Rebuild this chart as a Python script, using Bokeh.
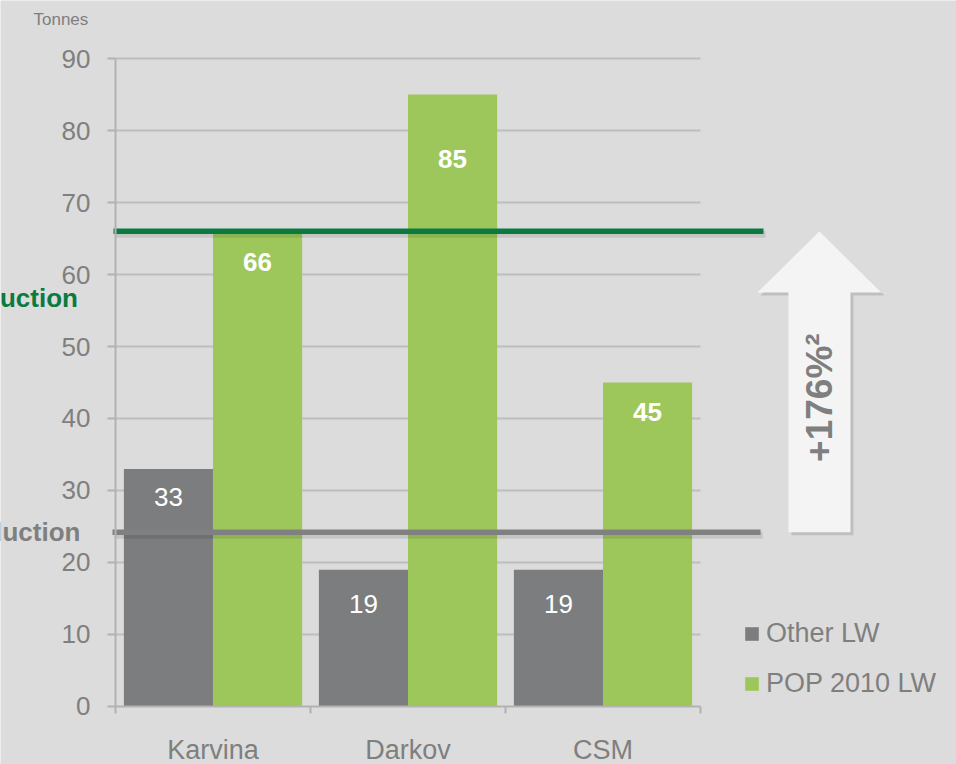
import numpy as np
from bokeh.plotting import figure
from bokeh.models import (Range1d, LinearAxis, FixedTicker, ColumnDataSource,
                          Legend, LegendItem)
from bokeh.core.properties import value
from bokeh.embed import file_html
from bokeh.resources import INLINE

# ---------------- data ----------------
categories = ["Karvina", "Darkov", "CSM"]
other_lw = [33, 19, 19]
pop_lw = [66, 85, 45]
y_ticks = [0, 10, 20, 30, 40, 50, 60, 70, 80, 90]
other_level = 24.2      # grey reference line
pop_level = 66.0        # green reference line
growth_text = "+176%\u00b2"
unit_label = "Tonnes"
series_names = ["Other LW", "POP 2010 LW"]
pop_level_label = "POP production"
other_level_label = "Other production"

# ---------------- style ----------------
FONT = "Liberation Sans"
TXT = "#7f7f7f"
BG = "#dcdcdc"
GRAY = "#7c7d7f"
GREEN = "#9dc75b"
DKGREEN = "#0a7a40"
AXIS = "#b2b2b2"
GRID = "#bdbdbd"
ARROW = "#f4f4f4"

W, H = 956, 764
X0, X1 = -0.5897, 4.3128
Y0, Y1 = -8.056, 98.056
p = figure(width=W, height=H, output_backend="svg", toolbar_location=None,
           x_range=Range1d(X0, X1), y_range=Range1d(Y0, Y1),
           x_axis_location=None, y_axis_location=None, min_border=0,
           tools="")
p.background_fill_color = BG
p.border_fill_color = BG
p.outline_line_color = None
p.grid.visible = False

n = len(categories)
xc = np.arange(n) + 0.5
bw = 0.457
dodge = bw / 2

src = ColumnDataSource(dict(
    xo=xc - dodge, xp=xc + dodge,
    other=other_lw, pop=pop_lw,
    ol=[str(v) for v in other_lw], pl=[str(v) for v in pop_lw],
    ooff=[28, 34, 34], poff=[31, 64, 29],
))

# horizontal grid lines (within the category span only)
gy = [t for t in y_ticks if t > 0]
p.segment(x0=[0] * len(gy), x1=[n] * len(gy), y0=gy, y1=gy,
          line_color=GRID, line_width=2)

# bars
r1 = p.vbar(x="xo", top="other", bottom=0, width=bw, source=src,
            fill_color=GRAY, line_color=None)
r2 = p.vbar(x="xp", top="pop", bottom=0, width=bw, source=src,
            fill_color=GREEN, line_color=None)

# bar labels
p.text(x="xo", y="other", text="ol", y_offset="ooff", source=src,
       text_align="center", text_baseline="middle", text_color="white",
       text_font=value(FONT), text_font_size="26px")
p.text(x="xp", y="pop", text="pl", y_offset="poff", source=src,
       text_align="center", text_baseline="middle", text_color="white",
       text_font=value(FONT), text_font_size="26px", text_font_style="bold")

# reference lines with soft shadow
px_x = (X1 - X0) / W
px_y = (Y1 - Y0) / H
for lvl, col, xa, xb in [(other_level, "#808080", -0.0154, 3.308),
                         (pop_level, DKGREEN, -0.0103, 3.323)]:
    p.segment(x0=[xa + 2 * px_x], x1=[xb + 2 * px_x],
              y0=[lvl - 3 * px_y], y1=[lvl - 3 * px_y],
              line_color="black", line_alpha=0.10, line_width=7)
    p.segment(x0=[xa], x1=[xb], y0=[lvl], y1=[lvl],
              line_color=col, line_width=5.5, line_cap="butt")

# arrow from grey level to green level
ax_c, shaft_hw, head_hw, head_len = 3.61, 0.159, 0.318, 8.5
axs = [ax_c - shaft_hw, ax_c - shaft_hw, ax_c - head_hw, ax_c,
       ax_c + head_hw, ax_c + shaft_hw, ax_c + shaft_hw]
ays = [other_level, pop_level - head_len, pop_level - head_len, pop_level,
       pop_level - head_len, pop_level - head_len, other_level]
p.patch([v + 3 * px_x for v in axs], [v - 3 * px_y for v in ays],
        fill_color="black", fill_alpha=0.13, line_color=None)
p.patch(axs, ays, fill_color=ARROW, line_color=None)
p.text(x=[ax_c], y=[42.9], text=[growth_text], angle=np.pi / 2,
       text_align="center", text_baseline="middle", text_color=TXT,
       text_font=value(FONT), text_font_size="37px", text_font_style="bold")

# left-hand (clipped) level labels
p.text(x=[-0.19], y=[56.7], text=[pop_level_label], text_align="right",
       text_baseline="middle", text_color=DKGREEN, text_font=value(FONT),
       text_font_size="26px", text_font_style="bold")
p.text(x=[-0.18], y=[24.3], text=[other_level_label], text_align="right",
       text_baseline="middle", text_color=TXT, text_font=value(FONT),
       text_font_size="26px", text_font_style="bold")

# unit label
p.text(x=[(33 - 115) / 195], y=[(706 - 19) / 7.2], text=[unit_label],
       text_align="left", text_baseline="middle", text_color=TXT,
       text_font=value(FONT), text_font_size="17px")

# axes
yax = LinearAxis(fixed_location=0, ticker=FixedTicker(ticks=y_ticks),
                 bounds=(0, 90))
yax.axis_line_color = AXIS
yax.axis_line_width = 2
yax.major_tick_line_color = AXIS
yax.major_tick_line_width = 2
yax.major_tick_out = 8
yax.major_tick_in = 0
yax.minor_tick_line_color = None
yax.major_label_text_font = FONT
yax.major_label_text_font_size = "26px"
yax.major_label_text_color = TXT
yax.major_label_standoff = 17
p.add_layout(yax, "left")

xax = LinearAxis(fixed_location=0,
                 ticker=FixedTicker(ticks=list(xc), minor_ticks=list(range(n + 1))),
                 bounds=(0, n))
xax.major_label_overrides = {float(v): c for v, c in zip(xc, categories)}
xax.axis_line_color = AXIS
xax.axis_line_width = 2
xax.major_tick_line_color = None
xax.minor_tick_line_color = AXIS
xax.minor_tick_line_width = 2
xax.minor_tick_out = 7
xax.minor_tick_in = 0
xax.major_label_text_font = FONT
xax.major_label_text_font_size = "27px"
xax.major_label_text_color = TXT
xax.major_label_standoff = 22
p.add_layout(xax, "below")

# legend
legend = Legend(items=[LegendItem(label=series_names[0], renderers=[r1]),
                       LegendItem(label=series_names[1], renderers=[r2])],
                location=(743, 65), orientation="vertical",
                glyph_width=17, glyph_height=17, label_standoff=6,
                spacing=19, padding=0, margin=0,
                border_line_color=None, background_fill_alpha=0,
                label_text_font=FONT, label_text_font_size="27px",
                label_text_color=TXT)
p.add_layout(legend, "center")

open("out.html", "w").write(file_html(p, INLINE))
